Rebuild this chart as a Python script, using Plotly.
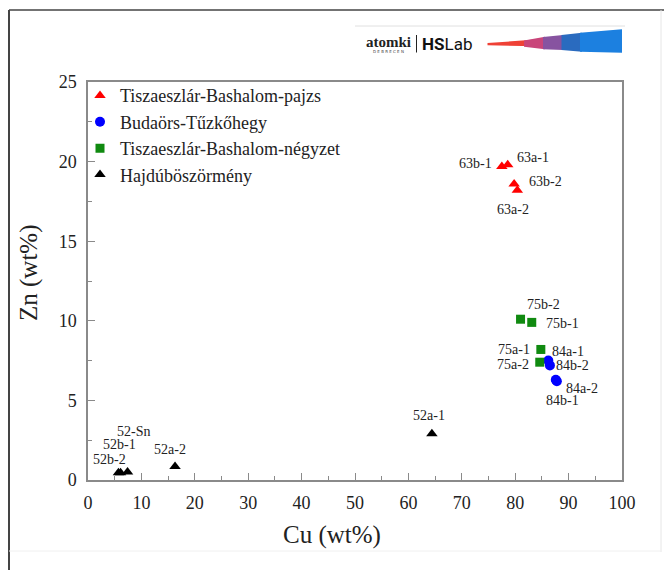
import plotly.graph_objects as go

# ---------------- data ----------------
pajzs_labels = ["63b-1", "63a-1", "63b-2", "63a-2"]
pajzs_cu = [77.5, 78.6, 79.8, 80.4]
pajzs_zn = [19.7, 19.8, 18.6, 18.2]

budaors_labels = ["84a-1", "84b-2", "84a-2", "84b-1"]
budaors_cu = [86.2, 86.5, 87.8, 87.6]
budaors_zn = [7.5, 7.2, 6.2, 6.3]

negyzet_labels = ["75b-2", "75b-1", "75a-1", "75a-2"]
negyzet_cu = [81.0, 83.1, 84.8, 84.6]
negyzet_zn = [10.1, 9.9, 8.2, 7.4]

hajdu_labels = ["52b-2", "52b-1", "52-Sn", "52a-2", "52a-1"]
hajdu_cu = [5.7, 6.1, 7.4, 16.3, 64.4]
hajdu_zn = [0.45, 0.45, 0.5, 0.85, 2.9]

series_names = ["Tiszaeszlár-Bashalom-pajzs", "Budaörs-Tűzkőhegy",
                "Tiszaeszlár-Bashalom-négyzet", "Hajdúböszörmény"]

x_ticks = list(range(0, 101, 10))
y_ticks = [0, 5, 10, 15, 20, 25]

# label offsets in pixels (dx, dy) for each point label
pajzs_off = [(-26, 3), (25, 7), (31, 2), (-4, -19)]
budaors_off = [(20, 9), (23, 0), (25, -7), (7, -21)]
negyzet_off = [(23, 15), (31, -1), (-27, 0), (-27, -2)]
hajdu_off = [(-9, 13), (-1, 28), (6, 41), (-5, 17), (-3, 18)]

# ---------------- layout geometry ----------------
W, H = 664, 570
L, R, T, B = 88, 42, 82, 90
PW, PH = W - L - R, H - T - B


def px(x):
    return (x - L) / PW


def py(y):
    return (H - B - y) / PH


SERIF = "Liberation Serif, Times New Roman, serif"

fig = go.Figure()

fig.add_trace(go.Scatter(x=pajzs_cu, y=pajzs_zn, mode="markers", name=series_names[0],
                         marker=dict(symbol="triangle-up", color="#ff0000", size=10)))
fig.add_trace(go.Scatter(x=budaors_cu, y=budaors_zn, mode="markers", name=series_names[1],
                         marker=dict(symbol="circle", color="#0000ff", size=10)))
fig.add_trace(go.Scatter(x=negyzet_cu, y=negyzet_zn, mode="markers", name=series_names[2],
                         marker=dict(symbol="square", color="#108a10", size=9)))
fig.add_trace(go.Scatter(x=hajdu_cu, y=hajdu_zn, mode="markers", name=series_names[3],
                         marker=dict(symbol="triangle-up", color="#000000", size=10)))

annotations = []
for labs, xs, ys, offs in [(pajzs_labels, pajzs_cu, pajzs_zn, pajzs_off),
                           (budaors_labels, budaors_cu, budaors_zn, budaors_off),
                           (negyzet_labels, negyzet_cu, negyzet_zn, negyzet_off),
                           (hajdu_labels, hajdu_cu, hajdu_zn, hajdu_off)]:
    for lab, x, y, (dx, dy) in zip(labs, xs, ys, offs):
        annotations.append(dict(x=x, y=y, xref="x", yref="y", text=lab, showarrow=False,
                                xanchor="center", yanchor="middle",
                                xshift=dx, yshift=dy,
                                font=dict(family=SERIF, size=14, color="#222")))

# axis titles
annotations.append(dict(x=px(332), y=py(535), xref="paper", yref="paper", text="Cu (wt%)",
                        xanchor="center", yanchor="middle",
                        showarrow=False, font=dict(family=SERIF, size=25, color="#222")))
annotations.append(dict(x=px(29), y=py(273), xref="paper", yref="paper", text="Zn (wt%)",
                        xanchor="center", yanchor="middle",
                        textangle=-90, showarrow=False,
                        font=dict(family=SERIF, size=25, color="#222")))

# logo text
annotations.append(dict(x=px(388.5), y=py(42), xref="paper", yref="paper", text="<b>atomki</b>",
                        xanchor="center", yanchor="middle",
                        showarrow=False, font=dict(family=SERIF, size=15, color="#222")))
annotations.append(dict(x=px(388.5), y=py(51), xref="paper", yref="paper", text="D E B R E C E N",
                        xanchor="center", yanchor="middle",
                        showarrow=False, font=dict(family="DejaVu Sans", size=4, color="#444")))
annotations.append(dict(x=px(420), y=py(44), xref="paper", yref="paper", xanchor="left",
                        yanchor="middle",
                        text="<b>HS</b>Lab", showarrow=False,
                        font=dict(family="Roboto", size=17, color="#111")))

shapes = []
# outer frame
shapes.append(dict(type="line", xref="paper", yref="paper", x0=px(9), x1=px(9), y0=py(10), y1=py(570),
                   line=dict(color="#444", width=2)))
shapes.append(dict(type="line", xref="paper", yref="paper", x0=px(9), x1=px(664), y0=py(10), y1=py(10),
                   line=dict(color="#444", width=1.5)))
shapes.append(dict(type="line", xref="paper", yref="paper", x0=px(661), x1=px(661), y0=py(10), y1=py(552),
                   line=dict(color="#e6e6e6", width=1)))
shapes.append(dict(type="line", xref="paper", yref="paper", x0=px(9), x1=px(661), y0=py(551), y1=py(551),
                   line=dict(color="#f0f0f0", width=1)))
# logo header line
shapes.append(dict(type="line", xref="paper", yref="paper", x0=px(355), x1=px(625), y0=py(26), y1=py(26),
                   line=dict(color="#e0e0e0", width=1)))
# logo separator
shapes.append(dict(type="line", xref="paper", yref="paper", x0=px(416.5), x1=px(416.5), y0=py(35), y1=py(52.5),
                   line=dict(color="#222", width=1)))

# logo stripes (x_left, x_right, top_left, top_right, bottom_left, bottom_right, color)
stripes = [
    (487.5, 550, 43, 38.5, 45.3, 46.5, "#ef4136"),
    (524, 545, 40.5, 36.7, 46.7, 49.3, "#c9457a"),
    (543, 563, 37, 35, 49.3, 50, "#8753a0"),
    (561.5, 582, 35, 32.7, 50, 51.7, "#2a6bbf"),
    (580, 622, 32.7, 29.3, 51.7, 52.7, "#1c80e0"),
]
for xl, xr, tl, tr, bl, br, col in stripes:
    path = (f"M {px(xl)} {py(tl)} L {px(xr)} {py(tr)} L {px(xr)} {py(br)} "
            f"L {px(xl)} {py(bl)} Z")
    shapes.append(dict(type="path", xref="paper", yref="paper", path=path,
                       fillcolor=col, line=dict(width=0)))

axis_common = dict(showgrid=False, zeroline=False, showline=True, linecolor="#8a8a8a",
                   linewidth=1.5, mirror=True, ticks="inside", ticklen=7, tickwidth=1,
                   tickcolor="#8a8a8a",
                   tickfont=dict(family=SERIF, size=18, color="#222"))

fig.update_layout(
    width=W, height=H,
    font=dict(family=SERIF, color="#222"),
    margin=dict(l=L, r=R, t=T, b=B, autoexpand=False),
    paper_bgcolor="white", plot_bgcolor="white",
    xaxis=dict(range=[0, 100], tickvals=x_ticks, ticktext=[str(v) for v in x_ticks],
               minor=dict(ticks="inside", ticklen=4, dtick=5, tickcolor="#8a8a8a"),
               ticklabelstandoff=6, **axis_common),
    yaxis=dict(range=[0, 25], tickvals=y_ticks, ticktext=[str(v) for v in y_ticks],
               minor=dict(ticks="inside", ticklen=4, dtick=2.5, tickcolor="#8a8a8a"),
               ticklabelstandoff=6, **axis_common),
    legend=dict(x=px(80), y=1.012, xanchor="left", yanchor="top", bgcolor="rgba(0,0,0,0)",
                font=dict(family=SERIF, size=18, color="#222"), itemwidth=30,
                tracegroupgap=0),
    showlegend=True,
    annotations=annotations,
    shapes=shapes,
)

fig.write_html("out.html", config={"displayModeBar": False},
               post_script="document.body.style.margin='0px';")
